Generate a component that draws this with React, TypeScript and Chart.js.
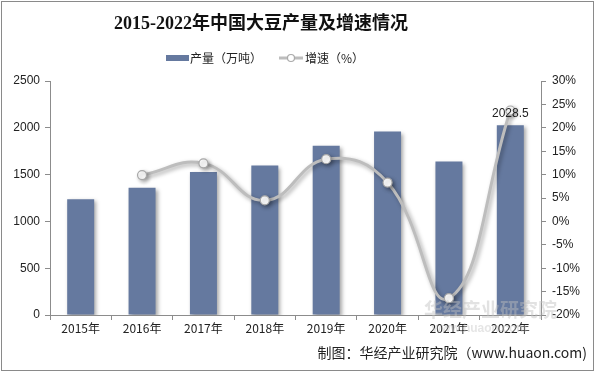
import React, { useEffect, useRef } from "react";
import { Chart, registerables } from "chart.js";

Chart.register(...registerables);

const categories = ["2015年", "2016年", "2017年", "2018年", "2019年", "2020年", "2021年", "2022年"];
const output = [1236.7, 1359.6, 1528.2, 1596.7, 1809.2, 1960.2, 1639.5, 2028.5];
const growth = [null, 9.9, 12.4, 4.5, 13.3, 8.3, -16.4, 23.7];
const leftTicks = { min: 0, max: 2500, step: 500 };
const rightTicks = { min: -20, max: 30, step: 5 };
const titleText = "2015-2022年中国大豆产量及增速情况";
const legendBar = "产量（万吨）";
const legendLine = "增速（%）";
const sourceText = "制图：华经产业研究院（www.huaon.com)";
const labelIndex = 7;

const BAR = "#65799f";
const LINE = "#bdbdbd";
const AXIS = "#8c8c8c";
const SANS = '"Liberation Sans", Arial, "Noto Sans CJK SC", sans-serif';
const CJK = '"Noto Sans CJK SC", "Liberation Sans", sans-serif';

export default function App() {
  const ref = useRef<HTMLCanvasElement>(null);
  useEffect(() => {
    document.body.style.margin = "0";
    const canvas = ref.current!;
    const deco = {
      id: "deco",
      beforeDatasetsDraw(chart: any) {
        const ctx = chart.ctx;
        ctx.save();
        ctx.shadowColor = "rgba(0,0,0,0.35)";
        ctx.shadowBlur = 4;
        ctx.shadowOffsetX = 2;
        ctx.shadowOffsetY = 2;
      },
      afterDatasetsDraw(chart: any) {
        const ctx = chart.ctx;
        ctx.restore();
        const meta = chart.getDatasetMeta(1);
        const el = meta.data[labelIndex];
        ctx.save();
        ctx.font = `12px ${SANS}`;
        ctx.fillStyle = "#222";
        ctx.textAlign = "center";
        ctx.textBaseline = "bottom";
        ctx.fillText(String(output[labelIndex]), el.x, el.y - 5);
        ctx.restore();
      },
      afterDraw(chart: any) {
        const ctx = chart.ctx;
        ctx.save();
        ctx.fillStyle = "rgba(190,190,190,0.45)";
        ctx.font = `bold 19px ${CJK}`;
        ctx.textAlign = "left";
        ctx.textBaseline = "middle";
        ctx.fillText("华经产业研究院", 424, 310);
        ctx.font = `bold 12px ${SANS}`;
        ctx.fillStyle = "rgba(190,190,190,0.4)";
        ctx.fillText("www.huaon.com", 432, 329);
        ctx.fillStyle = "#111";
        ctx.font = `bold 18px "Liberation Serif", "Noto Sans CJK SC", serif`;
        ctx.textAlign = "center";
        ctx.textBaseline = "middle";
        ctx.fillText(titleText, 261, 24);
        ctx.fillStyle = BAR;
        ctx.fillRect(166, 55, 23, 6);
        ctx.font = `12px ${CJK}`;
        ctx.fillStyle = "#222";
        ctx.textAlign = "left";
        ctx.fillText(legendBar, 190, 58);
        ctx.strokeStyle = LINE;
        ctx.lineWidth = 3;
        ctx.beginPath();
        ctx.moveTo(279, 58);
        ctx.lineTo(303, 58);
        ctx.stroke();
        ctx.beginPath();
        ctx.arc(291, 58, 3.5, 0, Math.PI * 2);
        ctx.fillStyle = "#fff";
        ctx.fill();
        ctx.lineWidth = 1.2;
        ctx.strokeStyle = "#aaa";
        ctx.stroke();
        ctx.fillStyle = "#222";
        ctx.fillText(legendLine, 305, 58);
        ctx.font = `14px ${CJK}`;
        ctx.fillStyle = "#222";
        ctx.textAlign = "right";
        ctx.fillText(sourceText, 587, 353);
        ctx.strokeStyle = "#8a8a8a";
        ctx.lineWidth = 1;
        ctx.strokeRect(1.5, 1.5, 592, 369);
        ctx.restore();
      },
    };
    const chart = new Chart(canvas, {
      type: "bar",
      data: {
        labels: categories,
        datasets: [
          {
            type: "line",
            label: legendLine,
            data: growth as any,
            yAxisID: "y1",
            borderColor: LINE,
            borderWidth: 3,
            tension: 0.45,
            pointRadius: 4.5,
            pointBackgroundColor: "#fff",
            pointBorderColor: "#a8a8a8",
            pointBorderWidth: 1.2,
            order: 0,
          } as any,
          {
            type: "bar",
            label: legendBar,
            data: output,
            yAxisID: "y",
            backgroundColor: BAR,
            categoryPercentage: 1,
            barPercentage: 0.44,
            order: 1,
          },
        ],
      },
      options: {
        animation: false,
        responsive: false,
        layout: { padding: { top: 81, bottom: 38, left: 0, right: 0 } },
        plugins: { legend: { display: false }, tooltip: { enabled: false }, title: { display: false } },
        scales: {
          x: {
            grid: { drawOnChartArea: false, tickLength: 5, color: AXIS, offset: true },
            border: { color: AXIS },
            ticks: { font: { size: 12, family: CJK }, color: "#222", padding: 1 },
            afterFit(s: any) { s.height = 20; },
          },
          y: {
            position: "left",
            min: leftTicks.min,
            max: leftTicks.max,
            grid: { drawOnChartArea: false, tickLength: 5, color: AXIS },
            border: { color: AXIS },
            ticks: {
              stepSize: leftTicks.step,
              font: { size: 12, family: SANS },
              color: "#222",
              padding: 5,
              callback: (v: any) => String(v),
            },
            afterFit(s: any) { s.width = 50; },
          },
          y1: {
            position: "right",
            min: rightTicks.min,
            max: rightTicks.max,
            grid: { drawOnChartArea: false, tickLength: 5, color: AXIS },
            border: { color: AXIS },
            ticks: {
              stepSize: rightTicks.step,
              font: { size: 12, family: SANS },
              color: "#222",
              padding: 6,
              callback: (v: any) => v + "%",
            },
            afterFit(s: any) { s.width = 54; },
          },
        },
      },
      plugins: [deco],
    });
    return () => chart.destroy();
  }, []);
  return <canvas ref={ref} width={595} height={373} style={{ display: "block" }} />;
}
